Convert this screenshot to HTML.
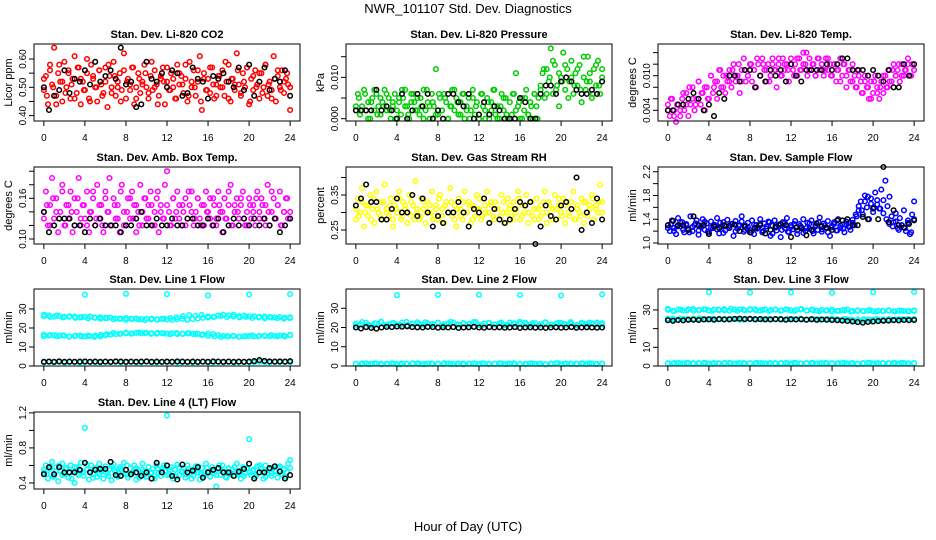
<!DOCTYPE html>
<html><head><meta charset="utf-8"><title>NWR_101107 Std. Dev. Diagnostics</title>
<style>
html,body{margin:0;padding:0;background:#fff;}
svg{display:block;font-family:"Liberation Sans",Arial,sans-serif;}
</style></head>
<body>
<svg id="chart" width="936" height="540" viewBox="0 0 936 540" xmlns="http://www.w3.org/2000/svg">
<rect x="0" y="0" width="936" height="540" fill="#fff"/>
<text x="468" y="13" text-anchor="middle" font-size="13">NWR_101107  Std. Dev. Diagnostics</text>
<text x="468" y="531" text-anchor="middle" font-size="13">Hour of Day (UTC)</text>
</svg>
<script>
// ---- data arrays ----
const xTicks = [0,4,8,12,16,20,24];
const panelTitles = ["Stan. Dev. Li-820 CO2","Stan. Dev. Li-820 Pressure","Stan. Dev. Li-820 Temp.","Stan. Dev. Amb. Box Temp.","Stan. Dev. Gas Stream RH","Stan. Dev. Sample Flow","Stan. Dev. Line 1 Flow","Stan. Dev. Line 2 Flow","Stan. Dev. Line 3 Flow","Stan. Dev. Line 4 (LT) Flow"];
const yTitles = ["Licor ppm","kPa","degrees C","degrees C","percent","ml/min","ml/min","ml/min","ml/min","ml/min"];
const yDomains = [[0.381,0.653],[-0.00056,0.01807],[0.00215,0.0155],[0.0926,0.2062],[0.21,0.43],[0.983,2.28],[0,40.5],[0,40],[0,41.2],[0.331,1.21]];
const yTickVals = [[0.40,0.45,0.50,0.55,0.60],[0,0.005,0.010,0.015],[0.004,0.006,0.008,0.010,0.012,0.014],[0.10,0.12,0.14,0.16,0.18,0.20],[0.25,0.30,0.35,0.40],[1.0,1.2,1.4,1.6,1.8,2.0,2.2],[0,10,20,30],[0,10,20,30],[0,10,20,30],[0.4,0.6,0.8,1.0,1.2]];
const yTickLabels = [["0.40","","0.50","","0.60"],["0.000","","0.010",""],["0.004","","","0.010","",""],["0.10","","","0.16","",""],["0.25","","0.35",""],["1.0","","1.4","","1.8","","2.2"],["0","10","20","30"],["0","10","20","30"],["0","10","","30"],["0.4","","0.8","","1.2"]];

const co2Color = [0.49,0.54,0.44,0.58,0.51,0.64,0.47,0.55,0.52,0.45,0.59,0.50,0.56,0.46,0.53,0.61,0.48,0.57,0.44,0.52,0.49,0.55,0.46,0.58,0.53,0.50,0.45,0.56,0.51,0.48,0.57,0.43,0.54,0.50,0.59,0.47,0.52,0.55,0.49,0.62,0.46,0.53,0.51,0.57,0.44,0.50,0.55,0.48,0.52,0.58,0.50,0.46,0.54,0.49,0.56,0.51,0.47,0.53,0.57,0.44,0.52,0.49,0.55,0.50,0.46,0.58,0.51,0.54,0.48,0.53,0.45,0.59,0.50,0.56,0.47,0.52,0.61,0.42,0.55,0.49,0.53,0.48,0.57,0.46,0.51,0.54,0.50,0.56,0.47,0.52,0.58,0.45,0.53,0.49,0.62,0.51,0.47,0.55,0.50,0.57,0.44,0.53,0.49,0.56,0.51,0.46,0.55,0.50,0.58,0.47,0.52,0.49,0.61,0.45,0.54,0.50,0.56,0.48,0.53,0.51,0.42];
const co2Color2 = [0.53,0.47,0.56,0.50,0.44,0.58,0.52,0.48,0.55,0.51,0.46,0.57,0.53,0.49,0.60,0.45,0.54,0.50,0.56,0.47,0.52,0.58,0.48,0.54,0.50,0.45,0.56,0.52,0.49,0.57,0.46,0.53,0.51,0.55,0.48,0.59,0.50,0.44,0.54,0.52,0.57,0.49,0.53,0.46,0.55,0.51,0.58,0.47,0.52,0.50,0.56,0.45,0.53,0.49,0.57,0.51,0.47,0.54,0.50,0.59,0.46,0.53,0.51,0.56,0.48,0.52,0.57,0.45,0.54,0.50,0.55,0.48,0.58,0.51,0.46,0.53,0.56,0.49,0.52,0.55,0.50];
const co2Black = [0.50,0.42,0.47,0.49,0.56,0.48,0.53,0.52,0.56,0.51,0.59,0.52,0.54,0.56,0.53,0.64,0.51,0.52,0.43,0.44,0.59,0.53,0.52,0.55,0.50,0.56,0.55,0.47,0.48,0.57,0.53,0.52,0.46,0.54,0.53,0.55,0.52,0.50,0.57,0.49,0.58,0.47,0.52,0.57,0.49,0.53,0.52,0.56,0.47];
const presColor = [0.002,0.006,0.001,0.003,0.007,0.002,0.004,0.000,0.005,0.002,0.006,0.003,0.001,0.004,0.007,0.002,0.005,0.000,0.003,0.006,0.002,0.004,0.001,0.005,0.007,0.003,0.000,0.004,0.006,0.002,0.005,0.001,0.003,0.007,0.002,0.004,0.000,0.006,0.003,0.012,0.001,0.005,0.002,0.006,0.004,0.000,0.003,0.007,0.002,0.005,0.001,0.004,0.006,0.000,0.003,0.005,0.002,0.007,0.001,0.004,0.000,0.006,0.003,0.002,0.005,0.000,0.004,0.007,0.001,0.003,0.000,0.006,0.002,0.005,0.000,0.004,0.001,0.006,0.011,0.003,0.000,0.005,0.002,0.007,0.001,0.004,0.000,0.006,0.003,0.005,0.007,0.011,0.005,0.012,0.009,0.017,0.006,0.013,0.008,0.003,0.010,0.016,0.007,0.012,0.009,0.014,0.006,0.011,0.008,0.013,0.004,0.010,0.007,0.015,0.009,0.005,0.012,0.008,0.014,0.006,0.012];
const presColor2 = [0.003,0.005,0.002,0.006,0.000,0.004,0.007,0.001,0.005,0.003,0.006,0.002,0.004,0.000,0.005,0.007,0.003,0.001,0.006,0.004,0.002,0.005,0.000,0.007,0.003,0.004,0.001,0.006,0.002,0.005,0.000,0.003,0.007,0.004,0.001,0.006,0.002,0.000,0.005,0.003,0.001,0.006,0.000,0.004,0.002,0.007,0.000,0.003,0.005,0.001,0.000,0.006,0.002,0.004,0.000,0.005,0.001,0.003,0.006,0.000,0.008,0.012,0.006,0.010,0.014,0.007,0.011,0.009,0.013,0.005,0.010,0.008,0.012,0.007,0.015,0.009,0.011,0.006,0.013,0.008,0.010];
const presBlack = [0.002,0.002,0.002,0.002,0.007,0.002,0.003,0.002,0.000,0.006,0.000,0.002,0.006,0.003,0.006,0.000,0.002,0.000,0.006,0.006,0.004,0.003,0.006,0.000,0.001,0.004,0.001,0.003,0.002,0.000,0.000,0.000,0.005,0.004,0.000,0.000,0.006,0.008,0.008,0.006,0.009,0.010,0.009,0.007,0.006,0.006,0.007,0.006,0.009];
const tempColor = [0.005,0.003,0.006,0.004,0.002,0.005,0.003,0.006,0.004,0.007,0.003,0.005,0.008,0.004,0.006,0.009,0.005,0.007,0.004,0.008,0.006,0.010,0.007,0.009,0.006,0.011,0.008,0.010,0.007,0.009,0.011,0.008,0.012,0.009,0.010,0.007,0.011,0.013,0.009,0.010,0.012,0.009,0.011,0.008,0.012,0.010,0.013,0.011,0.009,0.012,0.010,0.013,0.011,0.008,0.012,0.010,0.013,0.011,0.012,0.009,0.013,0.011,0.012,0.010,0.013,0.011,0.014,0.012,0.010,0.013,0.011,0.012,0.010,0.013,0.011,0.012,0.010,0.013,0.011,0.012,0.010,0.012,0.009,0.011,0.013,0.010,0.012,0.008,0.011,0.009,0.012,0.010,0.008,0.011,0.009,0.007,0.010,0.008,0.006,0.009,0.007,0.010,0.008,0.006,0.009,0.007,0.010,0.008,0.011,0.009,0.012,0.010,0.011,0.009,0.012,0.010,0.011,0.013,0.010,0.012,0.011];
const tempColor2 = [0.004,0.006,0.003,0.005,0.004,0.007,0.005,0.008,0.006,0.005,0.009,0.007,0.008,0.006,0.010,0.008,0.009,0.011,0.008,0.010,0.009,0.011,0.010,0.012,0.009,0.011,0.010,0.012,0.011,0.013,0.010,0.012,0.011,0.009,0.012,0.011,0.013,0.010,0.012,0.011,0.012,0.010,0.013,0.011,0.012,0.014,0.011,0.012,0.010,0.013,0.012,0.011,0.013,0.010,0.012,0.011,0.009,0.012,0.010,0.011,0.009,0.008,0.010,0.007,0.009,0.008,0.006,0.009,0.007,0.008,0.010,0.008,0.009,0.011,0.010,0.012,0.010,0.011,0.012,0.010,0.011];
const tempBlack = [0.004,0.004,0.005,0.005,0.006,0.007,0.006,0.004,0.005,0.003,0.007,0.006,0.010,0.010,0.009,0.011,0.011,0.008,0.010,0.009,0.011,0.010,0.011,0.009,0.012,0.010,0.009,0.011,0.011,0.011,0.011,0.012,0.011,0.012,0.013,0.013,0.011,0.011,0.011,0.010,0.011,0.010,0.009,0.011,0.008,0.008,0.012,0.010,0.012];
const ambColor = [0.14,0.17,0.12,0.15,0.19,0.13,0.16,0.11,0.14,0.18,0.12,0.15,0.13,0.17,0.11,0.16,0.14,0.19,0.12,0.15,0.13,0.17,0.11,0.14,0.16,0.12,0.18,0.13,0.15,0.11,0.17,0.14,0.19,0.12,0.16,0.13,0.15,0.11,0.18,0.14,0.12,0.16,0.13,0.17,0.15,0.11,0.14,0.18,0.12,0.16,0.13,0.15,0.17,0.12,0.14,0.16,0.11,0.15,0.13,0.18,0.20,0.14,0.12,0.16,0.13,0.17,0.15,0.12,0.14,0.16,0.13,0.15,0.17,0.12,0.14,0.16,0.13,0.15,0.12,0.17,0.14,0.16,0.12,0.15,0.13,0.17,0.14,0.11,0.16,0.13,0.15,0.18,0.12,0.14,0.16,0.13,0.15,0.17,0.12,0.14,0.16,0.13,0.15,0.12,0.17,0.14,0.16,0.13,0.15,0.18,0.12,0.14,0.16,0.13,0.15,0.17,0.12,0.14,0.16,0.13,0.14];
const ambColor2 = [0.13,0.15,0.12,0.16,0.14,0.13,0.17,0.12,0.15,0.14,0.12,0.16,0.13,0.15,0.12,0.14,0.17,0.13,0.15,0.12,0.16,0.14,0.12,0.15,0.13,0.17,0.12,0.14,0.16,0.13,0.15,0.12,0.14,0.16,0.13,0.15,0.12,0.17,0.14,0.13,0.15,0.12,0.16,0.14,0.13,0.15,0.12,0.17,0.14,0.13,0.16,0.12,0.15,0.14,0.13,0.16,0.12,0.15,0.14,0.13,0.17,0.12,0.15,0.14,0.16,0.13,0.12,0.15,0.14,0.16,0.13,0.15,0.12,0.14,0.17,0.13,0.15,0.12,0.14,0.16,0.13];
const ambBlack = [0.14,0.11,0.12,0.13,0.13,0.13,0.12,0.12,0.11,0.13,0.12,0.13,0.12,0.12,0.12,0.11,0.12,0.12,0.13,0.14,0.12,0.12,0.13,0.12,0.12,0.13,0.12,0.12,0.13,0.13,0.12,0.12,0.13,0.12,0.13,0.11,0.12,0.13,0.12,0.13,0.12,0.13,0.12,0.13,0.12,0.13,0.11,0.12,0.13];
const rhColor = [0.28,0.34,0.30,0.37,0.26,0.32,0.29,0.35,0.31,0.27,0.36,0.30,0.33,0.28,0.38,0.31,0.29,0.34,0.26,0.32,0.30,0.36,0.28,0.33,0.31,0.27,0.35,0.29,0.32,0.39,0.30,0.28,0.34,0.31,0.27,0.33,0.30,0.36,0.29,0.32,0.28,0.35,0.31,0.27,0.33,0.30,0.37,0.29,0.32,0.26,0.34,0.31,0.28,0.36,0.30,0.33,0.27,0.32,0.29,0.35,0.31,0.28,0.34,0.30,0.36,0.27,0.32,0.29,0.33,0.31,0.28,0.35,0.30,0.27,0.34,0.31,0.29,0.33,0.30,0.36,0.28,0.32,0.30,0.35,0.27,0.33,0.29,0.31,0.34,0.28,0.32,0.30,0.36,0.27,0.33,0.29,0.31,0.35,0.28,0.32,0.30,0.34,0.27,0.33,0.29,0.31,0.36,0.28,0.32,0.30,0.34,0.27,0.33,0.29,0.31,0.35,0.28,0.32,0.30,0.38,0.33];
const rhColor2 = [0.31,0.29,0.33,0.30,0.32,0.28,0.34,0.31,0.29,0.33,0.30,0.32,0.28,0.31,0.34,0.29,0.32,0.30,0.33,0.28,0.31,0.29,0.33,0.30,0.32,0.28,0.31,0.34,0.29,0.32,0.30,0.33,0.28,0.31,0.29,0.33,0.30,0.32,0.28,0.31,0.34,0.29,0.32,0.30,0.33,0.28,0.31,0.29,0.33,0.30,0.32,0.28,0.31,0.34,0.29,0.32,0.30,0.33,0.28,0.31,0.29,0.33,0.30,0.32,0.28,0.31,0.34,0.29,0.32,0.30,0.33,0.28,0.31,0.29,0.33,0.30,0.32,0.34,0.31,0.33,0.30];
const rhBlack = [0.32,0.34,0.38,0.33,0.33,0.28,0.28,0.31,0.34,0.30,0.30,0.35,0.29,0.34,0.30,0.26,0.29,0.27,0.30,0.30,0.33,0.30,0.26,0.31,0.30,0.34,0.27,0.31,0.28,0.27,0.28,0.31,0.33,0.32,0.33,0.21,0.26,0.32,0.29,0.28,0.32,0.33,0.31,0.40,0.25,0.30,0.27,0.34,0.28];
const flowColor = [1.30,1.20,1.38,1.25,1.15,1.42,1.28,1.35,1.18,1.32,1.24,1.45,1.20,1.30,1.38,1.14,1.27,1.40,1.22,1.33,1.18,1.36,1.25,1.30,1.42,1.16,1.28,1.35,1.21,1.39,1.26,1.32,1.12,1.37,1.24,1.30,1.45,1.19,1.29,1.34,1.22,1.38,1.15,1.30,1.26,1.40,1.18,1.33,1.24,1.36,1.12,1.29,1.38,1.21,1.31,1.10,1.35,1.25,1.42,1.18,1.30,1.23,1.37,1.15,1.32,1.27,1.40,1.20,1.34,1.24,1.38,1.16,1.30,1.22,1.43,1.19,1.33,1.26,1.37,1.12,1.29,1.35,1.21,1.40,1.25,1.31,1.18,1.36,1.28,1.22,1.39,1.30,1.45,1.55,1.70,1.48,1.80,1.60,1.40,1.75,1.52,1.85,1.65,1.58,1.90,1.72,2.05,1.62,1.78,1.45,1.35,1.50,1.25,1.42,1.30,1.55,1.20,1.38,1.15,1.48,1.70];
const flowColor2 = [1.25,1.32,1.20,1.28,1.35,1.22,1.30,1.18,1.27,1.33,1.21,1.29,1.36,1.19,1.26,1.31,1.23,1.34,1.17,1.28,1.25,1.32,1.20,1.29,1.36,1.22,1.27,1.18,1.31,1.24,1.33,1.20,1.28,1.35,1.16,1.26,1.30,1.22,1.34,1.19,1.27,1.32,1.21,1.29,1.17,1.25,1.33,1.20,1.28,1.35,1.23,1.30,1.18,1.26,1.32,1.21,1.29,1.24,1.31,1.27,1.34,1.48,1.62,1.55,1.70,1.78,1.66,1.60,1.72,1.58,1.50,1.40,1.32,1.28,1.36,1.22,1.30,1.25,1.34,1.18,1.40];
const flowBlack = [1.30,1.37,1.30,1.30,1.22,1.45,1.30,1.30,1.15,1.28,1.25,1.30,1.29,1.31,1.20,1.28,1.18,1.25,1.30,1.16,1.22,1.28,1.32,1.30,1.10,1.26,1.25,1.13,1.22,1.33,1.28,1.25,1.22,1.38,1.38,1.40,1.30,1.30,1.44,1.40,1.58,1.40,2.28,1.35,1.55,1.30,1.26,1.32,1.38];
const line1Upper = [27,26.5,26,26.3,25.8,26.2,26,25.5,25.8,26,25.4,25.6,25.2,25.5,25,24.8,25.2,24.9,25,24.6,24.8,25,24.5,24.8,24.5,24.2,24.6,24.8,24.3,24.7,25,25.3,25.5,25.8,26.5,27,26.6,27,26.2,26.5,26,26.2,25.8,26,25.7,25.5,25.8,25.4,25.2];
const line1Upper2 = [26.2,25.8,26.5,25.6,25.9,25.3,25.7,25.1,25.4,24.8,25.2,24.6,24.9,24.3,24.7,24.5,24.1,24.6,24.4,24.9,25.2,25.6,26.2,26.8,26.4,26.9,26.1,25.9,26.3,25.7,26,25.5,25.8,25.3,25.6,25.1,25.5,25.2,24.9,25.6];
const line1Mid = [16.5,16,16.2,15.8,16,15.5,15.8,16,15.6,15.8,16,15.5,16.2,16.5,16.8,17,17.2,17,17.4,17.2,17.5,17.2,17,17.3,17,17.2,16.8,17,17.2,16.9,17,16.6,17,16.8,16.2,15.8,15.5,15.8,15.4,15.6,15.8,15.5,15.8,16,15.6,15.8,16,15.5,16.2];
const line1Mid2 = [15.7,16.3,15.6,16.1,15.4,16,15.7,15.9,15.3,16.4,16.7,17.3,16.9,17.5,17.1,17.6,17.3,16.9,17.4,17.1,16.7,17.3,16.9,17.2,16.8,16.3,15.9,15.6,15.3,15.7,15.9,15.4,15.7,16.1,15.5,15.8,16.2,15.6,16,16.4];
const line1Low = [1.9,2.1,2.0,2.2,1.9,2.0,2.1,1.8,2.0,2.2,2.0,1.9,2.1,2.0,2.2,1.9,2.0,2.1,2.0,1.9,2.2,2.0,1.9,2.1,2.0,2.2,1.9,2.0,2.1,1.9,2.0,2.2,2.0,1.9,2.1,2.0,2.2,1.9,2.0,2.1,1.9,2.0,2.2,2.0,1.9,2.1,2.0,2.1,2.0];
const line1Black = [2.2,2.3,2.2,2.4,2.2,2.3,2.2,2.3,2.4,2.2,2.3,2.2,2.3,2.2,2.4,2.3,2.2,2.3,2.2,2.3,2.4,2.2,2.3,2.2,2.3,2.2,2.4,2.3,2.2,2.3,2.2,2.3,2.2,2.4,2.3,2.2,2.3,2.2,2.3,2.2,2.3,2.6,3.1,2.7,2.4,2.3,2.4,2.3,2.5];
const line2Upper = [22,21.5,22.5,21,22,22.8,21.3,22.2,21.6,22.6,21.2,22,22.7,21.4,22.3,21.8,22.5,21.1,22,22.6,21.5,22.2,21.7,22.8,21.3,22,22.4,21.6,22.2,21.2,22.6,21.8,22,22.5,21.4,22.2,21.7,22.7,21.3,22,22.4,21.6,22.2,21.1,22.5,21.8,22.1,22.6,21.5];
const line2Upper2 = [21,22.8,21.4,22.2,23,21.6,22.4,21.2,22.9,21.8,22.1,22.7,21.3,22.5,21.7,22.9,21.5,22.3,21.9,22.8,21.2,22.4,21.6,22.6,21.4,22.2,22.9,21.7,22.3,21.1,22.7,21.5,22.4,21.9,22.8,21.3,22.1,22.6,21.6,22.3];
const line2Low = [1.2,1.0,1.4,1.1,1.3,0.9,1.2,1.4,1.0,1.3,1.1,1.2,1.4,1.0,1.3,1.1,1.2,1.0,1.4,1.1,1.3,0.9,1.2,1.4,1.0,1.3,1.1,1.2,1.4,1.0,1.3,1.1,1.2,1.0,1.4,1.1,1.3,0.9,1.2,1.4,1.0,1.3,1.1,1.2,1.4,1.0,1.3,1.1,1.2];
const line2Low2 = [1.1,1.3,1.0,1.4,1.2,1.1,1.3,0.9,1.2,1.4,1.1,1.0,1.3,1.2,1.4,1.1,1.0,1.3,1.2,1.1,1.4,1.0,1.2,1.3,1.1,1.4,1.0,1.2,1.3,1.1,0.9,1.2,1.4,1.1,1.3,1.0,1.2,1.4,1.1,1.3];
const line2Black = [20,19.5,20.2,19.8,19.4,20,20.3,20.2,20.5,20.4,20.6,20.2,20.1,20,20.3,20.2,19.9,20.1,20,20.2,19.8,20,20.1,20.3,20,19.9,20.2,20,20.1,19.9,20,20.2,19.8,20,20.1,19.9,20,19.8,20,20.1,19.9,20,20.2,19.9,20,20.1,20,19.9,20];
const line3Upper = [30,29.5,30.2,29.8,30.4,29.6,30,30.3,29.7,30.2,29.9,30.5,29.6,30.1,30.3,29.8,30,30.4,29.7,30.2,29.9,30.1,29.6,30.3,29.8,30,30.5,29.7,30.2,29.6,30,29.8,30.1,29.5,29.9,30.2,29.4,29.8,29.5,29.7,29.3,29.6,29.4,29.8,29.2,29.6,29.5,29.3,29.5];
const line3Upper2 = [30.6,29.4,30.1,29.7,30.5,29.9,30.3,29.5,30.2,29.8,30.6,29.6,30.1,30.4,29.7,30,29.5,30.3,29.8,30.1,29.4,30.2,29.6,29.9,29.3,29.7,29.1,29.5,29.8,29.2,29.6,29.4,29.9,29.1,29.5,29.7,29.2,29.6,29.3,29.8];
const line3Mid = [25,25.3,24.8,25.2,25,25.4,24.9,25.2,25,25.3,25.1,25.4,25,25.2,24.9,25.3,25,25.2,25.1,24.9,25.2,25,25.3,24.9,25.1,25,25.2,24.8,25.1,25,24.9,25.2,24.7,25,24.8,25.1,24.6,24.9,24.5,24.8,24.6,24.9,24.7,25,24.8,25.1,24.9,25,25.2];
const line3Mid2 = [25.4,24.7,25.3,25.1,24.8,25.5,25,25.3,24.9,25.4,25.1,25.2,24.8,25.3,25,24.9,25.3,25.1,24.9,25.2,25,25.4,24.9,25.2,25,24.8,25.3,24.7,25.1,24.9,24.6,25,24.8,25.1,24.9,25.2,24.8,25,25.1,24.9];
const line3Low = [1.5,1.3,1.7,1.4,1.6,1.2,1.5,1.7,1.3,1.6,1.4,1.5,1.7,1.3,1.6,1.4,1.5,1.3,1.7,1.4,1.6,1.2,1.5,1.7,1.3,1.6,1.4,1.5,1.7,1.3,1.6,1.4,1.5,1.3,1.7,1.4,1.6,1.2,1.5,1.7,1.3,1.6,1.4,1.5,1.7,1.3,1.6,1.4,1.5];
const line3Low2 = [1.4,1.6,1.3,1.7,1.5,1.4,1.6,1.2,1.5,1.7,1.4,1.3,1.6,1.5,1.7,1.4,1.3,1.6,1.5,1.4,1.7,1.3,1.5,1.6,1.4,1.7,1.3,1.5,1.6,1.4,1.2,1.5,1.7,1.4,1.6,1.3,1.5,1.7,1.4,1.6];
const line3Black = [24.5,24.2,24.6,24.4,24.7,24.8,24.6,24.9,25,24.8,25.1,24.9,25,25.2,25.3,25.1,25.2,25,25.1,25,24.9,25.1,25,24.8,25,24.9,25,24.8,25,24.7,24.9,24.8,24.6,24.5,24.3,24.1,23.8,23.5,23.2,23.6,23.8,24,24.2,24.3,24.5,24.4,24.6,24.5,24.6];
const flowOutliersT = [4,8,12,16,20,24];
const line1Out = [37.5,38,37.8,37.2,37.6,37.8];
const line2Out = [36.8,37,37,36.9,36.6,37.2];
const line3Out = [39.5,39.3,39.4,39.2,39.5,39.6];
const line4Color = [0.52,0.60,0.45,0.56,0.64,0.48,0.58,0.42,0.54,0.62,0.50,0.57,0.46,0.60,0.53,0.40,0.58,0.49,0.63,0.52,1.03,0.55,0.44,0.60,0.50,0.57,0.47,0.62,0.53,0.45,0.59,0.51,0.56,0.43,0.61,0.52,0.48,0.58,0.54,0.63,0.50,0.46,0.57,0.52,0.60,0.44,0.55,0.49,0.62,0.53,0.47,0.58,0.51,0.56,0.45,0.60,0.52,0.48,0.57,0.54,1.17,0.50,0.58,0.45,0.55,0.61,0.49,0.53,0.57,0.46,0.60,0.51,0.55,0.48,0.59,0.52,0.44,0.57,0.50,0.62,0.53,0.47,0.58,0.51,0.36,0.56,0.49,0.60,0.53,0.46,0.57,0.50,0.55,0.48,0.62,0.52,0.45,0.58,0.51,0.56,0.90,0.49,0.54,0.47,0.59,0.52,0.56,0.45,0.60,0.51,0.55,0.48,0.57,0.53,0.46,0.59,0.50,0.56,0.47,0.62,0.66];
const line4Color2 = [0.55,0.50,0.58,0.47,0.53,0.60,0.49,0.56,0.52,0.45,0.58,0.51,0.54,0.48,0.61,0.53,0.46,0.57,0.50,0.55,0.52,0.48,0.59,0.54,0.47,0.56,0.51,0.60,0.49,0.53,0.57,0.46,0.55,0.50,0.58,0.52,0.48,0.56,0.53,0.60,0.49,0.55,0.51,0.47,0.58,0.53,0.50,0.56,0.45,0.54,0.59,0.51,0.48,0.57,0.52,0.55,0.49,0.60,0.53,0.47,0.56,0.51,0.58,0.50,0.54,0.48,0.57,0.52,0.55,0.49,0.60,0.53,0.47,0.56,0.51,0.54,0.58,0.50,0.55,0.52,0.57];
const line4Black = [0.50,0.58,0.50,0.58,0.52,0.52,0.52,0.55,0.63,0.52,0.55,0.56,0.56,0.64,0.49,0.48,0.55,0.50,0.52,0.48,0.52,0.45,0.63,0.52,0.60,0.48,0.44,0.61,0.52,0.54,0.58,0.46,0.52,0.55,0.57,0.52,0.52,0.48,0.53,0.56,0.62,0.45,0.52,0.52,0.57,0.59,0.53,0.45,0.49];

// ---- layout ----
const NS = "http://www.w3.org/2000/svg";
const svg = document.getElementById("chart");
const colLeft = [34,346,658], rowTop = [44,167,289,412], PW = 266, PH = 77;
const xMin = -0.96, xMax = 24.96;
const RED="#ff0000", GREEN="#00cd00", MAG="#ff00ff", YEL="#ffff00", BLUE="#0000ff", CYAN="#00ffff", BLK="#000000";

const series = [
  [[co2Color,RED],[co2Color2,RED],[co2Black,BLK]],
  [[presColor,GREEN],[presColor2,GREEN],[presBlack,BLK]],
  [[tempColor,MAG],[tempColor2,MAG],[tempBlack,BLK]],
  [[ambColor,MAG],[ambColor2,MAG],[ambBlack,BLK]],
  [[rhColor,YEL],[rhColor2,YEL],[rhBlack,BLK]],
  [[flowColor,BLUE],[flowColor2,BLUE],[flowBlack,BLK]],
  [[line1Upper,CYAN],[line1Upper2,CYAN],[line1Mid,CYAN],[line1Mid2,CYAN],[line1Low,CYAN],[line1Out,CYAN,flowOutliersT],[line1Black,BLK]],
  [[line2Upper,CYAN],[line2Upper2,CYAN],[line2Low,CYAN],[line2Low2,CYAN],[line2Out,CYAN,flowOutliersT],[line2Black,BLK]],
  [[line3Upper,CYAN],[line3Upper2,CYAN],[line3Mid,CYAN],[line3Mid2,CYAN],[line3Low,CYAN],[line3Low2,CYAN],[line3Out,CYAN,flowOutliersT],[line3Black,BLK]],
  [[line4Color,CYAN],[line4Color2,CYAN],[line4Black,BLK]]
];

function mk(tag, attrs, parent){
  const e = document.createElementNS(NS, tag);
  for (const k in attrs) e.setAttribute(k, attrs[k]);
  (parent||svg).appendChild(e);
  return e;
}

series.forEach((sers, p) => {
  const L = colLeft[p % 3], T = rowTop[Math.floor(p / 3)];
  const [y0, y1] = yDomains[p];
  const xs = v => L + (v - xMin) / (xMax - xMin) * PW;
  const ys = v => T + PH - (v - y0) / (y1 - y0) * PH;
  const g = mk("g", {});
  
  

  const tt = mk("text", {x: L + PW / 2, y: T - 6, "text-anchor": "middle", "font-size": "11", "font-weight": "bold"}, g);
  tt.textContent = panelTitles[p];
  
  

  const yt = mk("text", {x: 0, y: 0, "text-anchor": "middle", "font-size": "11", transform: "translate(" + (L - 22) + "," + (T + PH / 2) + ") rotate(-90)"}, g);
  yt.textContent = yTitles[p];
  
  

  const pg = mk("g", {fill: "none", "stroke-width": "1.5"}, g);
  
  
  sers.forEach(s => {
    const vals = s[0], col = s[1], times = s[2];
    vals.forEach((v, i) => {
      const t = times ? times[i] : (vals.length > 1 ? i * 24 / (vals.length - 1) : 0);
      const c = mk("circle", {cx: xs(t).toFixed(1), cy: ys(v).toFixed(1), r: "2.3", stroke: col}, pg);
      
      
    });
  });

  const box = mk("rect", {x: L, y: T, width: PW, height: PH, fill: "none", stroke: "#000", "stroke-width": "1"}, g);
  
  

  xTicks.forEach(t => {
    const x = xs(t);
    const tk = mk("line", {x1: x, y1: T + PH, x2: x, y2: T + PH + 5, stroke: "#000"}, g);
    
    
    const lb = mk("text", {x: x, y: T + PH + 20, "text-anchor": "middle", "font-size": "10"}, g);
    lb.textContent = t;
    
    
  });
  yTickVals[p].forEach((v, i) => {
    const y = ys(v);
    const tk = mk("line", {x1: L - 5, y1: y, x2: L, y2: y, stroke: "#000"}, g);
    
    
    const lab = yTickLabels[p][i];
    if (lab) {
      const lb = mk("text", {x: 0, y: 0, "text-anchor": "middle", "font-size": "10", transform: "translate(" + (L - 8) + "," + y + ") rotate(-90)"}, g);
      lb.textContent = lab;
      
      
    }
  });
});
</script>
</body></html>
